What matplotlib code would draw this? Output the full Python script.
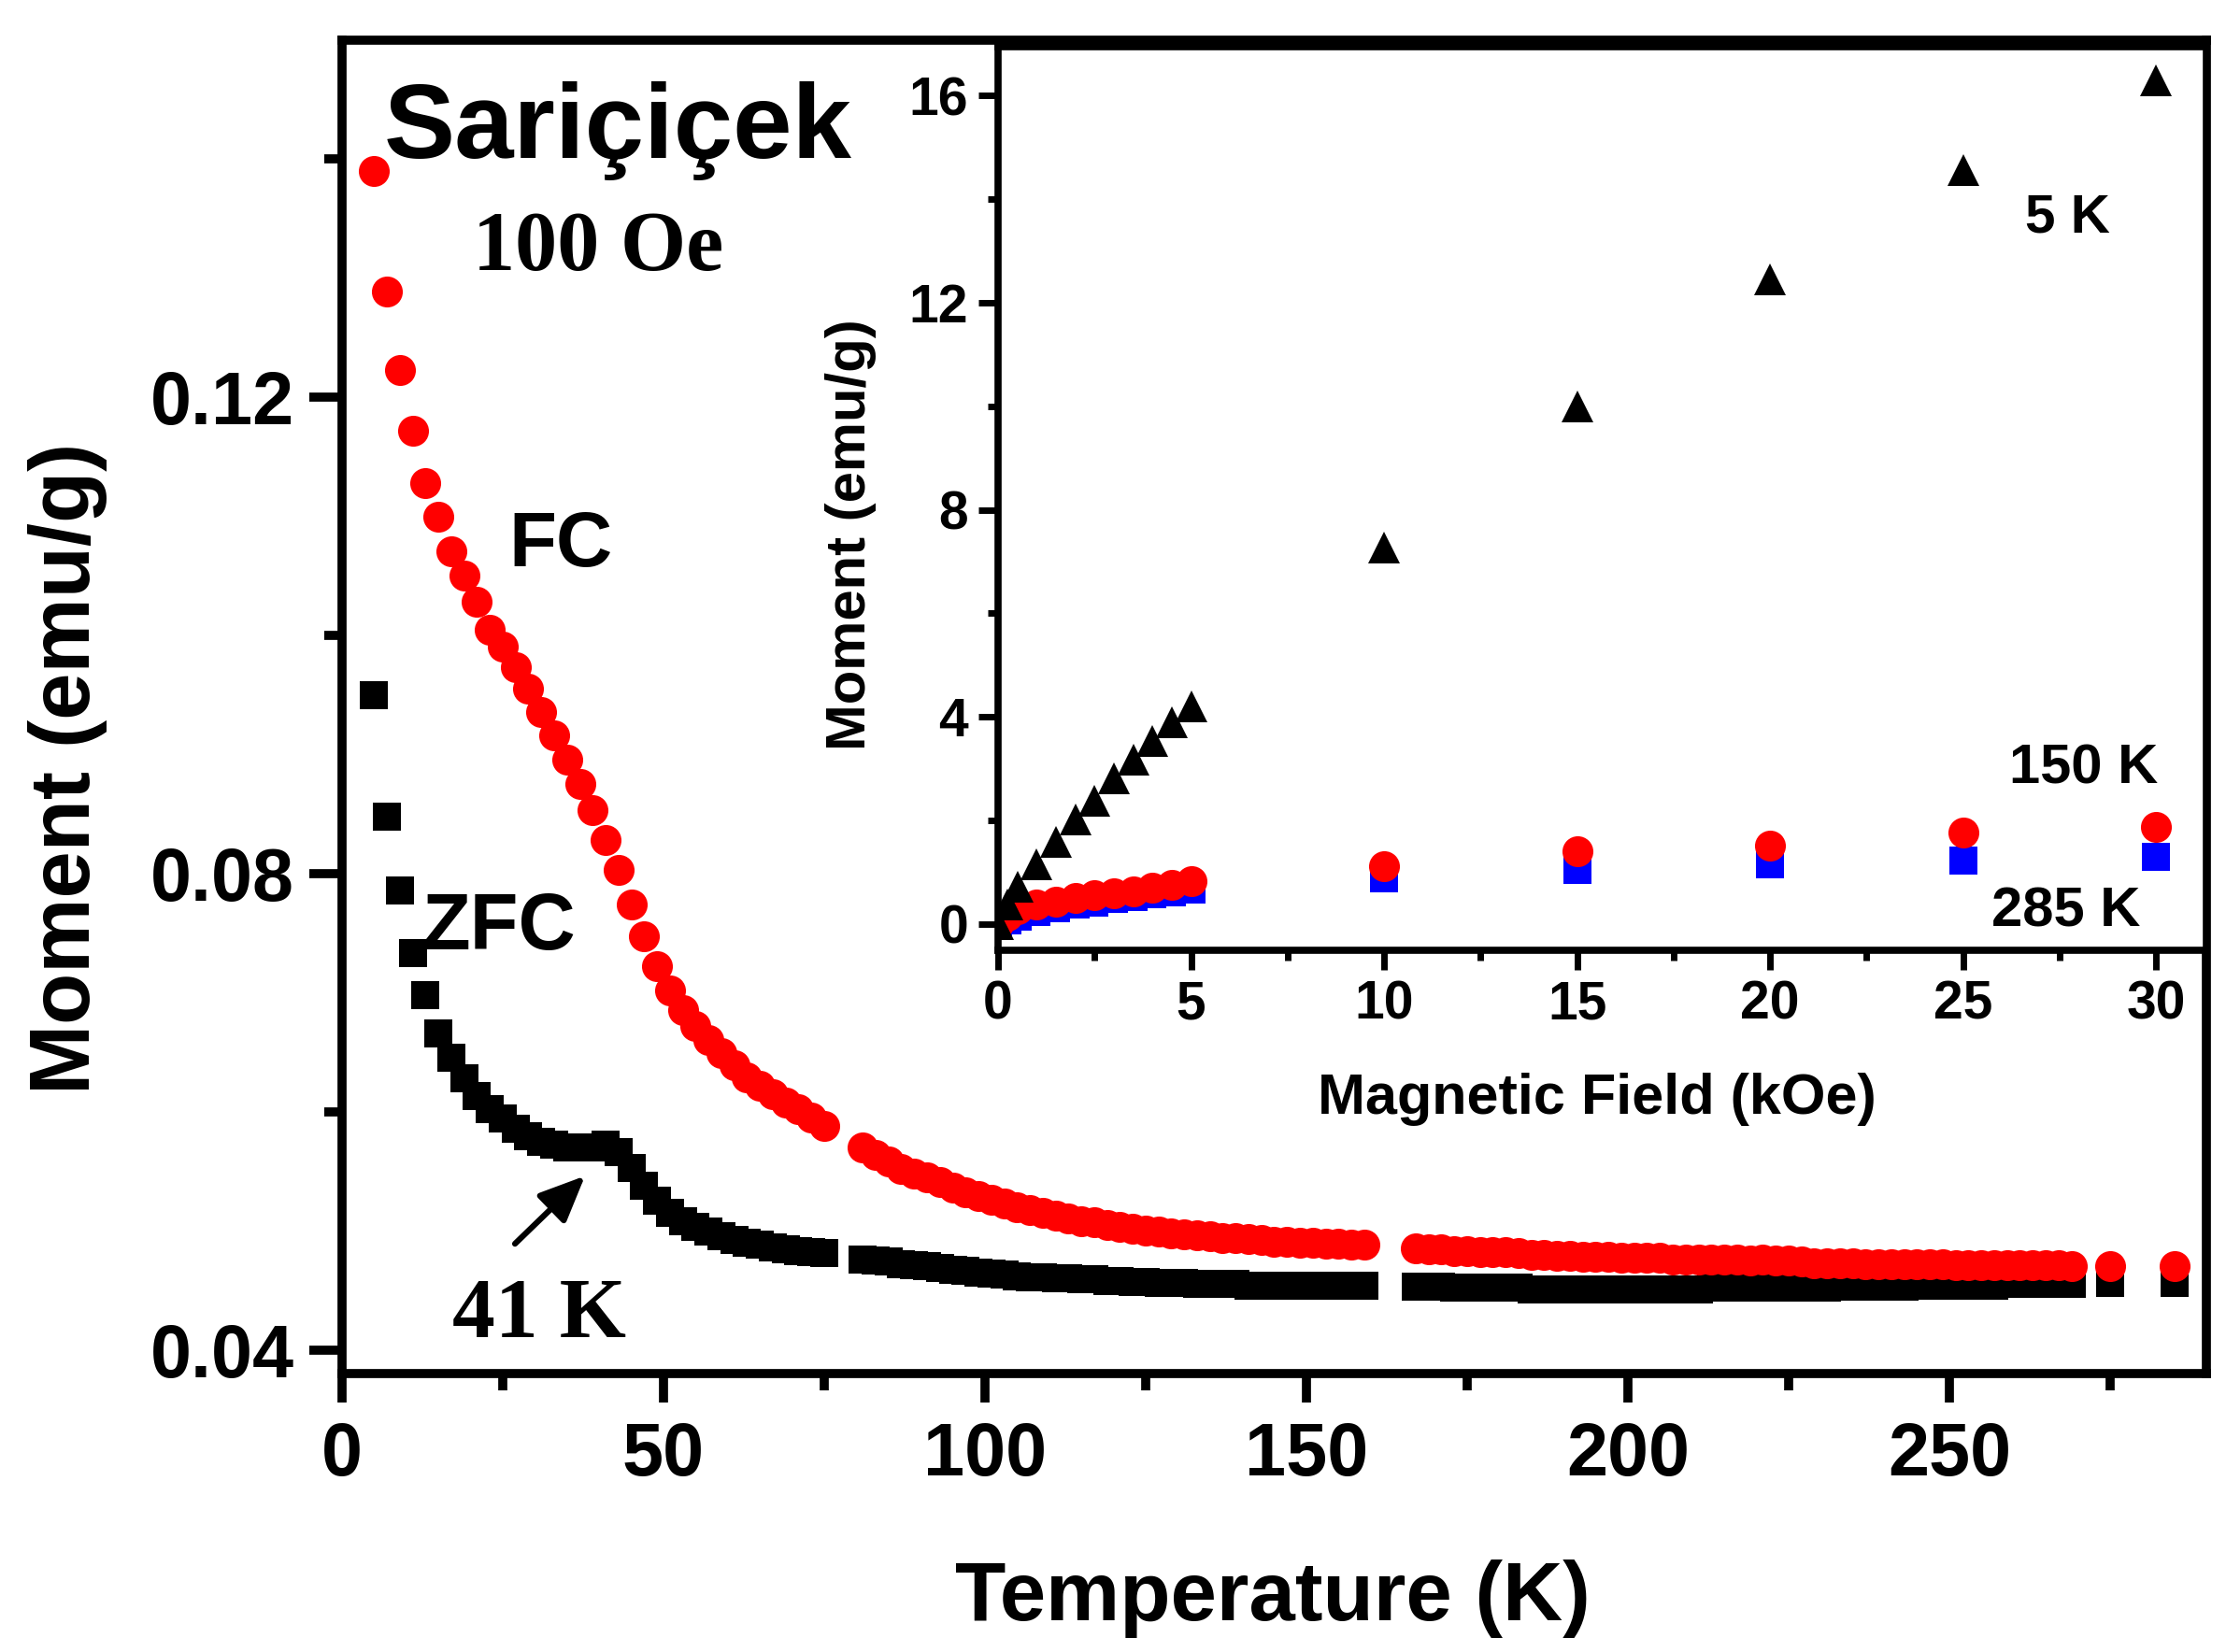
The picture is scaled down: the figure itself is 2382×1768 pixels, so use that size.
import matplotlib
matplotlib.use('Agg')
import matplotlib.pyplot as plt

plt.rcParams['font.family'] = ['Liberation Sans', 'DejaVu Sans']
plt.rcParams['font.weight'] = 'bold'

# ---------------- main panel data: M(T) at 100 Oe ----------------
temperature = [
    5, 7, 9, 11, 13, 15, 17, 19, 21, 23, 25, 27, 29, 31, 33, 35, 37, 39, 41, 43,
    45, 47, 49, 51, 53, 55, 57, 59, 61, 63, 65, 67, 69, 71, 73, 75,
    81, 83, 85, 87, 89, 91, 93, 95, 97, 99, 101, 103, 105, 107, 109, 111, 113, 115, 117, 119,
    121, 123, 125, 127, 129, 131, 133, 135, 137, 139, 141, 143, 145, 147, 149, 151, 153, 155, 157, 159,
    167, 169, 171, 173, 175, 177, 179, 181, 183, 185, 187, 189, 191, 193, 195, 197, 199, 201, 203, 205,
    207, 209, 211, 213, 215, 217, 219, 221, 223, 225, 227, 229, 231, 233, 235, 237, 239, 241, 243, 245,
    247, 249, 251, 253, 255, 257, 259, 261, 263, 265, 267, 269,
    275, 285]

moment_fc = [
    0.1390, 0.1289, 0.1223, 0.1172, 0.1128, 0.1100, 0.1071, 0.1050, 0.1028, 0.1005,
    0.0991, 0.0973, 0.0955, 0.0936, 0.0916, 0.0896, 0.0875, 0.0853, 0.0828, 0.0803,
    0.0774, 0.0747, 0.0722, 0.0702, 0.0685, 0.0672, 0.0660, 0.0649, 0.0639, 0.0629,
    0.0622, 0.0615, 0.0608, 0.0602, 0.0595, 0.0588,
    0.0570, 0.0564, 0.0558, 0.0552, 0.0548, 0.0545, 0.0541, 0.0536, 0.0532, 0.0529,
    0.0526, 0.0523, 0.0520, 0.0517, 0.0515, 0.0513, 0.0510, 0.0508, 0.0507, 0.0505,
    0.0503, 0.0502, 0.0500, 0.0499, 0.0498, 0.0497, 0.0496, 0.0495, 0.0494, 0.0494,
    0.0493, 0.0492, 0.0491, 0.0491, 0.0490, 0.0490, 0.0489, 0.0489, 0.0488, 0.0488,
    0.0485, 0.0484, 0.0484, 0.0483, 0.0483, 0.0482, 0.0482, 0.0482, 0.0481, 0.0480,
    0.0480, 0.0479, 0.0479, 0.0478, 0.0478, 0.0478, 0.0477, 0.0477, 0.0477, 0.0477,
    0.0476, 0.0476, 0.0476, 0.0476, 0.0476, 0.0476, 0.0475, 0.0476, 0.0475, 0.0475,
    0.0474, 0.0473, 0.0473, 0.0473, 0.0473, 0.0472, 0.0472, 0.0472, 0.0472, 0.0472,
    0.0472, 0.0472, 0.0471, 0.0471, 0.0471, 0.0471, 0.0471, 0.0471, 0.0471, 0.0471,
    0.0471, 0.0470,
    0.0470, 0.0470]

moment_zfc = [
    0.0950, 0.0848, 0.0786, 0.0733, 0.0698, 0.0666, 0.0645, 0.0628, 0.0613, 0.0602,
    0.0594, 0.0586, 0.0579, 0.0575, 0.0572, 0.0570, 0.0570, 0.0570, 0.0572, 0.0566,
    0.0553, 0.0538, 0.0525, 0.0515, 0.0508, 0.0503, 0.0499, 0.0495, 0.0492, 0.0490,
    0.0488, 0.0486, 0.0484, 0.0483, 0.0482, 0.0481,
    0.0476, 0.0475, 0.0474, 0.0472, 0.0471, 0.0470, 0.0469, 0.0467, 0.0466, 0.0465,
    0.0464, 0.0463, 0.0462, 0.0461, 0.0461, 0.0460, 0.0460, 0.0459, 0.0459, 0.0458,
    0.0458, 0.0457, 0.0457, 0.0456, 0.0456, 0.0456, 0.0455, 0.0455, 0.0455, 0.0455,
    0.0454, 0.0454, 0.0454, 0.0454, 0.0454, 0.0454, 0.0454, 0.0454, 0.0454, 0.0454,
    0.0453, 0.0453, 0.0453, 0.0452, 0.0452, 0.0452, 0.0452, 0.0452, 0.0452, 0.0451,
    0.0451, 0.0451, 0.0451, 0.0451, 0.0451, 0.0451, 0.0451, 0.0451, 0.0451, 0.0451,
    0.0451, 0.0451, 0.0451, 0.0452, 0.0452, 0.0452, 0.0452, 0.0452, 0.0452, 0.0452,
    0.0452, 0.0452, 0.0452, 0.0453, 0.0453, 0.0453, 0.0453, 0.0453, 0.0453, 0.0454,
    0.0454, 0.0454, 0.0454, 0.0454, 0.0454, 0.0454, 0.0455, 0.0455, 0.0455, 0.0455,
    0.0455, 0.0455,
    0.0456, 0.0456]

main_xticks = [0, 50, 100, 150, 200, 250]
main_xminor = [25, 75, 125, 175, 225, 275]
main_yticks = [0.04, 0.08, 0.12]
main_ylabels = ['0.04', '0.08', '0.12']
main_yminor = [0.06, 0.10, 0.14]

# ---------------- inset data: M(H) ----------------
field_5k = [0.0, 0.25, 0.5, 1.0, 1.5, 2.0, 2.5, 3.0, 3.5, 4.0, 4.5, 5.0, 10, 15, 20, 25, 30]
moment_5k = [0.0, 0.38, 0.72, 1.15, 1.59, 2.02, 2.38, 2.81, 3.17, 3.53, 3.89, 4.20,
             7.27, 10.0, 12.45, 14.56, 16.29]
field_150k = [0.0, 0.25, 0.5, 1.0, 1.5, 2.0, 2.5, 3.0, 3.5, 4.0, 4.5, 5.0, 10, 15, 20, 25, 30]
moment_150k = [0.0, 0.17, 0.28, 0.37, 0.43, 0.51, 0.56, 0.60, 0.64, 0.70, 0.76, 0.83,
               1.11, 1.40, 1.51, 1.77, 1.87]
field_285k = [0.0, 0.25, 0.5, 1.0, 1.5, 2.0, 2.5, 3.0, 3.5, 4.0, 4.5, 5.0, 10, 15, 20, 25, 30]
moment_285k = [0.0, 0.08, 0.15, 0.24, 0.30, 0.37, 0.42, 0.48, 0.53, 0.57, 0.62, 0.66,
               0.89, 1.04, 1.15, 1.23, 1.30]

inset_xticks = [0, 5, 10, 15, 20, 25, 30]
inset_xminor = [2.5, 7.5, 12.5, 17.5, 22.5, 27.5]
inset_yticks = [0, 4, 8, 12, 16]
inset_yminor = [2, 6, 10, 14]

# ---------------- figure ----------------
fig = plt.figure(figsize=(23.82, 17.68), dpi=100)
ax = fig.add_axes([0.15365, 0.16855, 0.83753, 0.80713])

ax.plot(temperature, moment_zfc, ls='none', marker='s', ms=21.6,
        mfc='black', mec='black', mew=0, zorder=3)
ax.plot(temperature, moment_fc, ls='none', marker='o', ms=23.8,
        mfc='#ff0000', mec='#ff0000', mew=0, zorder=3)

ax.set_xlim(0, 290)
ax.set_ylim(0.038, 0.15)
ax.set_xticks(main_xticks)
ax.set_xticks(main_xminor, minor=True)
ax.set_yticks(main_yticks)
ax.set_yticklabels(main_ylabels)
ax.set_yticks(main_yminor, minor=True)
for s in ax.spines.values():
    s.set_linewidth(7)
ax.tick_params(axis='both', which='both', direction='out', width=7,
               top=False, right=False)
ax.tick_params(axis='y', which='major', length=25, pad=12, labelsize=57)
ax.tick_params(axis='x', which='major', length=22, pad=15, labelsize=57)
ax.tick_params(axis='y', which='minor', length=14)
ax.tick_params(axis='x', which='minor', length=13)

fig.text(0.5718, 0.019, 'Temperature (K)', fontsize=64, fontweight='bold',
         ha='center', va='baseline')
fig.text(0.0402, 0.535, 'Moment (emu/g)', fontsize=65, fontweight='bold',
         rotation=90, rotation_mode='anchor', ha='center', va='baseline')

ax.text(6.47, 0.1401, 'Sariçiçek', fontsize=82, fontweight='bold',
        ha='left', va='baseline')
ax.text(20.3, 0.1307, '100 Oe', fontsize=65, fontweight='bold',
        family=['Liberation Serif', 'DejaVu Serif'], ha='left', va='baseline')
ax.text(26.0, 0.1058, 'FC', fontsize=60, fontweight='bold',
        ha='left', va='baseline')
ax.text(12.4, 0.0736, 'ZFC', fontsize=61, fontweight='bold',
        ha='left', va='baseline', zorder=2)
ax.text(17.1, 0.0411, '41 K', fontsize=66, fontweight='bold',
        family=['Liberation Serif', 'DejaVu Serif'], ha='left', va='baseline')
ax.annotate('', xy=(37.8, 0.0546), xytext=(26.9, 0.0489),
            arrowprops=dict(arrowstyle='-|>,head_length=0.5,head_width=0.22',
                            mutation_scale=60, lw=4.5, color='black',
                            shrinkA=0, shrinkB=0))

# ---------------- inset ----------------
axi = fig.add_axes([0.44836, 0.42494, 0.54282, 0.54678])
axi.set_facecolor('white')
axi.plot(field_285k, moment_285k, ls='none', marker='s', ms=21.6,
         mfc='#0000ff', mec='#0000ff', mew=0)
axi.plot(field_150k, moment_150k, ls='none', marker='o', ms=23.8,
         mfc='#ff0000', mec='#ff0000', mew=0)
axi.plot(field_5k, moment_5k, ls='none', marker='^', ms=25,
         mfc='black', mec='black', mew=0)
axi.set_xlim(0, 31.3)
axi.set_ylim(-0.5, 16.94)
axi.set_xticks(inset_xticks)
axi.set_xticks(inset_xminor, minor=True)
axi.set_yticks(inset_yticks)
axi.set_yticks(inset_yminor, minor=True)
for s in axi.spines.values():
    s.set_linewidth(5.5)
axi.tick_params(axis='both', which='both', direction='out', width=5,
                top=False, right=False)
axi.tick_params(axis='both', which='major', length=15, pad=8, labelsize=41)
axi.tick_params(axis='both', which='minor', length=8)

axi.text(26.6, 13.35, '5 K', fontsize=42, fontweight='bold', ha='left', va='baseline')
axi.text(26.2, 2.71, '150 K', fontsize=43, fontweight='bold', ha='left', va='baseline')
axi.text(25.74, -0.04, '285 K', fontsize=43, fontweight='bold', ha='left', va='baseline')

fig.text(0.7173, 0.3258, 'Magnetic Field (kOe)', fontsize=44, fontweight='bold',
         ha='center', va='baseline')
fig.text(0.3888, 0.6762, 'Moment (emu/g)', fontsize=43, fontweight='bold',
         rotation=90, rotation_mode='anchor', ha='center', va='baseline')

fig.savefig('out.png', dpi=100, facecolor='white')
